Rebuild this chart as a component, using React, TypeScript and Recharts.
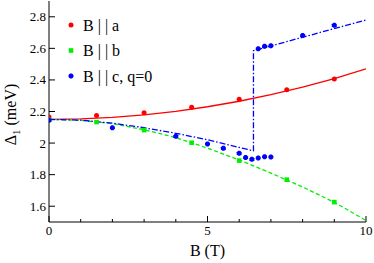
import React from 'react';
import { ComposedChart, Line, Scatter, XAxis, YAxis } from 'recharts';

// Measured points
const redPoints = [
  { x: 0, y: 2.165 }, { x: 1.5, y: 2.175 }, { x: 3, y: 2.192 }, { x: 4.5, y: 2.227 },
  { x: 6, y: 2.277 }, { x: 7.5, y: 2.337 }, { x: 9, y: 2.406 },
];
const greenPoints = [
  { x: 0, y: 2.147 }, { x: 1.5, y: 2.133 }, { x: 3, y: 2.082 }, { x: 4.5, y: 2.002 },
  { x: 6, y: 1.889 }, { x: 7.5, y: 1.768 }, { x: 9, y: 1.626 },
];
const bluePoints = [
  { x: 0, y: 2.145 }, { x: 2, y: 2.097 }, { x: 4, y: 2.044 }, { x: 5, y: 1.994 },
  { x: 5.5, y: 1.967 }, { x: 6, y: 1.936 }, { x: 6.2, y: 1.909 }, { x: 6.4, y: 1.897 },
  { x: 6.6, y: 1.905 }, { x: 6.8, y: 1.913 }, { x: 7, y: 1.912 },
  { x: 6.6, y: 2.598 }, { x: 6.8, y: 2.613 }, { x: 7, y: 2.617 }, { x: 8, y: 2.682 },
  { x: 9, y: 2.747 },
];

// Fit curves
const redCurve = [
  { x: 0, y: 2.15 }, { x: 1, y: 2.153 }, { x: 2, y: 2.163 }, { x: 3, y: 2.179 },
  { x: 4, y: 2.201 }, { x: 5, y: 2.23 }, { x: 6, y: 2.265 }, { x: 7, y: 2.307 },
  { x: 8, y: 2.355 }, { x: 9, y: 2.409 }, { x: 10, y: 2.47 },
];
const greenCurve = [
  { x: 0, y: 2.15 }, { x: 1, y: 2.144 }, { x: 2, y: 2.123 }, { x: 3, y: 2.085 },
  { x: 4, y: 2.035 }, { x: 5, y: 1.968 }, { x: 6, y: 1.893 }, { x: 7, y: 1.81 },
  { x: 8, y: 1.722 }, { x: 9, y: 1.625 }, { x: 10, y: 1.51 },
];
const blueCurve = [
  { x: 0, y: 2.15 }, { x: 1, y: 2.145 }, { x: 2, y: 2.126 }, { x: 3, y: 2.097 },
  { x: 4, y: 2.062 }, { x: 5, y: 2.021 }, { x: 6, y: 1.972 }, { x: 6.45, y: 1.951 },
  { x: 6.45, y: 2.585 }, { x: 10, y: 2.78 },
];

const xTicks = [0, 1, 2, 3, 4, 5, 6, 7, 8, 9, 10];
const yTicks = [1.6, 1.8, 2.0, 2.2, 2.4, 2.6, 2.8];
const legendItems = [
  { label: 'B | | a', color: '#ff0000', shape: 'circle' },
  { label: 'B | | b', color: '#00ee00', shape: 'square' },
  { label: 'B | | c, q=0', color: '#0000ff', shape: 'oct' },
];

const FONT = "'Times New Roman', 'Liberation Serif', 'DejaVu Serif', 'Noto Serif', Times, serif";
const txt = (size: number) => ({ fontFamily: FONT, fontSize: size });

const fmtY = (v: number) => (Math.abs(v - 2) < 1e-9 ? '2' : v.toFixed(1));

const BottomTick = (props: any) => {
  const { x, y, payload } = props;
  const major = payload.value % 5 === 0;
  return (
    <g>
      <line x1={x} y1={y} x2={x} y2={y - (major ? 6 : 3)} stroke="#000" />
      {major && (
        <text x={x} y={y + 13} textAnchor="middle" fontFamily={FONT} style={txt(13)} fill="#000">
          {payload.value}
        </text>
      )}
    </g>
  );
};
const TopTick = (props: any) => {
  const { x, y, payload } = props;
  const major = payload.value % 5 === 0;
  return <line x1={x} y1={y} x2={x} y2={y + (major ? 6 : 3)} stroke="#000" />;
};
const LeftTick = (props: any) => {
  const { x, y, payload } = props;
  return (
    <g>
      <line x1={x} y1={y} x2={x + 6} y2={y} stroke="#000" />
      <text x={x - 3} y={y + 4.5} textAnchor="end" fontFamily={FONT} style={txt(13)} fill="#000">
        {fmtY(payload.value)}
      </text>
    </g>
  );
};
const RightTick = (props: any) => {
  const { x, y } = props;
  return <line x1={x} y1={y} x2={x - 6} y2={y} stroke="#000" />;
};

const YLabel = (props: any) => {
  const vb = props.viewBox || { x: 0, y: 0, width: 49, height: 221 };
  const cx = vb.x + 16;
  const cy = vb.y + vb.height / 2 + 3;
  return (
    <text
      x={cx}
      y={cy}
      transform={`rotate(-90, ${cx}, ${cy})`}
      textAnchor="middle"
      fontFamily={FONT}
      style={txt(16)}
      fill="#000"
    >
      Δ<tspan dy={4} style={txt(11)}>1</tspan>
      <tspan dy={-4}> (meV)</tspan>
    </text>
  );
};
const XLabel = (props: any) => {
  const vb = props.viewBox || { x: 49, y: 222, width: 317, height: 41 };
  return (
    <text x={vb.x + vb.width / 2} y={vb.y + 34} textAnchor="middle" fontFamily={FONT} style={txt(16)} fill="#000">
      B (T)
    </text>
  );
};

const Circle = (props: any) => <circle cx={props.cx} cy={props.cy} r={2.5} fill="#ff0000" />;
const Square = (props: any) => (
  <rect x={props.cx - 2.3} y={props.cy - 2.3} width={4.6} height={4.6} fill="#00ee00" />
);
const octPath = (cx: number, cy: number, r: number) => {
  const a = r * 0.4;
  return `M${cx - a},${cy - r} L${cx + a},${cy - r} L${cx + r},${cy - a} L${cx + r},${cy + a} L${cx + a},${cy + r} L${cx - a},${cy + r} L${cx - r},${cy + a} L${cx - r},${cy - a} Z`;
};
const Oct = (props: any) => <path d={octPath(props.cx, props.cy, 2.5)} fill="#0000ff" />;

const LegendIcon = ({ shape, color, cx, cy }: any) => {
  if (shape === 'circle') return <circle cx={cx} cy={cy} r={2.5} fill={color} />;
  if (shape === 'square') return <rect x={cx - 2.3} y={cy - 2.3} width={4.6} height={4.6} fill={color} />;
  return <path d={octPath(cx, cy, 2.5)} fill={color} />;
};

export default function App() {
  return (
    <div style={{ position: 'absolute', left: 0, top: 0, width: 374, height: 263, background: '#fff', fontFamily: FONT }}>
      <ComposedChart
        width={374}
        height={263}
        margin={{ top: 1, right: 8, bottom: 0, left: 0 }}
        style={{ background: '#fff', fontFamily: FONT }}
      >
        <XAxis
          xAxisId="b"
          dataKey="x"
          type="number"
          domain={[0, 10]}
          ticks={xTicks}
          interval={0}
          height={41}
          tickSize={0}
          tickMargin={0}
          tickLine={false}
          axisLine={{ stroke: '#000' }}
          tick={<BottomTick />}
          allowDataOverflow
          label={<XLabel />}
        />
        <XAxis
          xAxisId="t"
          orientation="top"
          dataKey="x"
          type="number"
          domain={[0, 10]}
          ticks={xTicks}
          interval={0}
          height={0}
          tickSize={0}
          tickMargin={0}
          tickLine={false}
          axisLine={{ stroke: '#000' }}
          tick={<TopTick />}
          allowDataOverflow
        />
        <YAxis
          yAxisId="l"
          dataKey="y"
          type="number"
          domain={[1.5, 2.9]}
          ticks={yTicks}
          interval={0}
          width={49}
          tickSize={0}
          tickMargin={0}
          tickLine={false}
          axisLine={{ stroke: '#000' }}
          tick={<LeftTick />}
          allowDataOverflow
          label={<YLabel />}
        />
        <YAxis
          yAxisId="r"
          orientation="right"
          dataKey="y"
          type="number"
          domain={[1.5, 2.9]}
          ticks={yTicks}
          interval={0}
          width={0}
          tickSize={0}
          tickMargin={0}
          tickLine={false}
          axisLine={{ stroke: '#000' }}
          tick={<RightTick />}
          allowDataOverflow
        />
        <Line
          xAxisId="b"
          yAxisId="l"
          data={redCurve}
          dataKey="y"
          type="linear"
          stroke="#ff0000"
          strokeWidth={1.3}
          dot={false}
          activeDot={false}
          isAnimationActive={false}
        />
        <Line
          xAxisId="b"
          yAxisId="l"
          data={greenCurve}
          dataKey="y"
          type="linear"
          stroke="#00ee00"
          strokeWidth={1.3}
          strokeDasharray="4 2.5"
          dot={false}
          activeDot={false}
          isAnimationActive={false}
        />
        <Line
          xAxisId="b"
          yAxisId="l"
          data={blueCurve}
          dataKey="y"
          type="linear"
          stroke="#0000ff"
          strokeWidth={1.3}
          strokeDasharray="6 2 1.5 2"
          dot={false}
          activeDot={false}
          isAnimationActive={false}
        />
        <Scatter xAxisId="b" yAxisId="l" data={redPoints} dataKey="y" shape={<Circle />} isAnimationActive={false} />
        <Scatter xAxisId="b" yAxisId="l" data={greenPoints} dataKey="y" shape={<Square />} isAnimationActive={false} />
        <Scatter xAxisId="b" yAxisId="l" data={bluePoints} dataKey="y" shape={<Oct />} isAnimationActive={false} />
      </ComposedChart>
      <svg width={374} height={263} style={{ position: 'absolute', left: 0, top: 0, pointerEvents: 'none' }}>
        {legendItems.map((it, i) => {
          const cy = 25 + i * 25.5;
          return (
            <g key={it.label}>
              <LegendIcon shape={it.shape} color={it.color} cx={71} cy={cy} />
              <text x={83} y={cy + 5.5} fontFamily={FONT} style={txt(16)} fill="#000">
                {it.label}
              </text>
            </g>
          );
        })}
      </svg>
    </div>
  );
}
